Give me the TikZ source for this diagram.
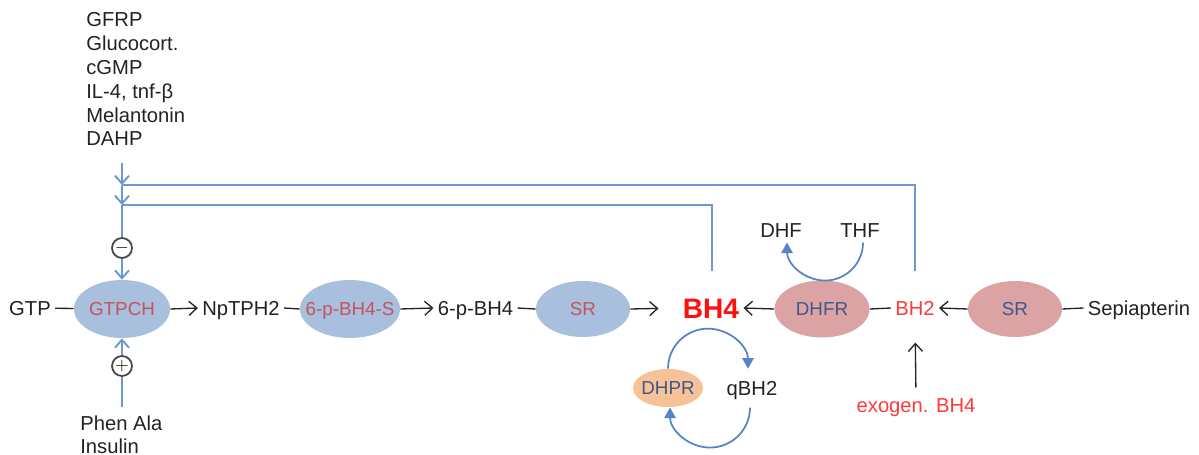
\documentclass[tikz,border=0pt]{standalone}
\usepackage{fontspec}
\setmainfont{Liberation Sans}
\usetikzlibrary{arrows.meta,shapes.geometric}

\definecolor{fbblue}{HTML}{6E98CF}
\definecolor{cycblue}{HTML}{5585C4}
\definecolor{ellblue}{HTML}{A8BFDE}
\definecolor{ellpink}{HTML}{DBA3A3}
\definecolor{ellorange}{HTML}{F8C298}
\definecolor{enzred}{HTML}{C4545C}
\definecolor{enzslate}{HTML}{3F5789}
\definecolor{ink}{HTML}{222222}
\definecolor{hotred}{HTML}{FF1010}
\definecolor{softred}{HTML}{FF3A3A}

% enzyme labels take no room, so the ellipse keeps its set size
\newcommand{\enzlabel}[1]{\makebox[0pt][c]{#1}}

\tikzset{
  lst/.style={font=\fontsize{11.5}{13.8}\selectfont, text=ink, inner sep=0pt},
  lbl/.style={font=\fontsize{11.5}{13.8}\selectfont, text=ink, inner xsep=2.3pt,
              inner ysep=0pt, text height=8.2pt, text depth=0pt},
  enz/.style={ellipse, draw=none, inner sep=0pt, font=\fontsize{10.7}{13}\selectfont,
              text height=7.6pt, text depth=0pt},
  blueenz/.style={enz, fill=ellblue, text=enzred},
  pinkenz/.style={enz, fill=ellpink, text=enzslate},
  link/.style={draw=ink, line width=0.75pt},
  conv/.style={link, -{Straight Barb[length=4.5pt,width=8pt]}},
  fb/.style={draw=fbblue, line width=1.1pt},
  fbarrow/.style={fb, -{Straight Barb[length=4.5pt,width=8pt]}},
  cyc/.style={draw=cycblue, line width=1pt, -{Triangle[length=6pt,width=6.5pt]}},
  reg/.style={circle, draw=gray!55!black, line width=1pt, minimum size=0.4cm,
              inner sep=0pt, font=\fontsize{10}{10}\selectfont},
}

\begin{document}
\begin{tikzpicture}[x=0.02cm,y=-0.02cm]
\useasboundingbox[fill=white] (0,0) rectangle (1199,455);

% regulators of GTPCH
\node[lst, anchor=base west] (gfrp) at (86,27)    {GFRP};
\node[lst, anchor=base west] (gluc) at (86,50.8)  {Glucocort.};
\node[lst, anchor=base west] (cgmp) at (86,74.6)  {cGMP};
\node[lst, anchor=base west] (il4)  at (86,98.4)  {IL-4, tnf-β};
\node[lst, anchor=base west] (mel)  at (86,122.2) {Melantonin};
\node[lst, anchor=base west] (dahp) at (86,146)   {DAHP};
\node[lst, anchor=base west] (phe)  at (80,430)   {Phen Ala};
\node[lst, anchor=base west] (ins)  at (80,453)   {Insulin};

% de novo pathway
\node[lbl] (gtp) at (30,308) {GTP};
\node[blueenz, minimum width=1.92cm, minimum height=1.16cm] (gtpch) at (122,309) {\enzlabel{GTPCH}};
\node[lbl] (np) at (241,308) {NpTPH2};
\node[blueenz, minimum width=2cm, minimum height=1.16cm] (ptps) at (350,309) {\enzlabel{6-p-BH4-S}};
\node[lbl] (p6) at (475.5,308) {6-p-BH4};
\node[blueenz, minimum width=1.88cm, minimum height=1.12cm] (sr1) at (583,309) {\enzlabel{SR}};
\node[lbl, font=\bfseries\fontsize{16}{19}\selectfont, text=hotred, text height=11.5pt] (bh4) at (711,308) {BH4};

% salvage pathway
\node[pinkenz, minimum width=1.9cm, minimum height=1.14cm] (dhfr) at (822,309) {\enzlabel{DHFR}};
\node[lbl, text=softred] (bh2) at (915,308) {BH2};
\node[pinkenz, minimum width=1.88cm, minimum height=1.12cm] (sr2) at (1015,309) {\enzlabel{SR}};
\node[lbl] (sep) at (1139,308) {Sepiapterin};
\node[lbl, text=softred] (exo) at (916,405) {exogen. BH4};

% folate cycle
\node[lbl] (dhf) at (781,230) {DHF};
\node[lbl] (thf) at (860,230) {THF};

% recycling
\node[enz, fill=ellorange, text=enzslate, minimum width=1.4cm, minimum height=0.76cm] (dhpr) at (668,388) {\enzlabel{DHPR}};
\node[lbl] (qbh2) at (752,388) {qBH2};

% regulation signs
\node[reg] (minus) at (122,248) {$-$};
\node[reg] (plus) at (122,366) {$+$};

% main row connectors
\draw[link] (gtp) -- (gtpch);
\draw[conv] (gtpch.east) -- (np.west);
\draw[link] (np.east) -- (ptps.west);
\draw[conv] (ptps.east) -- (p6.west);
\draw[link] (p6.east) -- (sr1.west);
\draw[conv, shorten >=0.4cm] (sr1.east) -- (bh4.west);
\draw[conv] (dhfr.west) -- (bh4.east);
\draw[link] (dhfr.east) -- (bh2.west);
\draw[conv] (sr2.west) -- (bh2.east);
\draw[link] (sep.west) -- (sr2.east);
\draw[conv, shorten <=0.2cm, shorten >=0.54cm] (exo.north) -- (bh2.south);

% feedback to GTPCH
\coordinate (fbtop) at (122,163);
\coordinate (j1) at (122,185);
\coordinate (j2) at (122,205);
\coordinate (fb1) at (915,271);
\coordinate (fb2) at (712,271);
\coordinate (plusfoot) at (122,407);
\draw[fbarrow] (fbtop) -- (j1);
\draw[fbarrow] (j1) -- (j2);
\draw[fb] (j2) -- (minus.north);
\draw[fb] (fb1) |- (j1);
\draw[fb] (fb2) |- (j2);
\draw[fbarrow] (minus.south) -- (gtpch.north);
\draw[fbarrow] (plus.north) -- (gtpch.south);
\draw[fb] (plusfoot) -- (plus.south);

% cycle arcs
\draw[cyc] (dhpr.north) arc[start angle=180, end angle=0, radius=0.8cm];
\draw[cyc] (qbh2.south) ++(-2,12) arc[start angle=0, end angle=-180, radius=0.8cm];
\draw[cyc] (thf.south) ++(3,5) arc[start angle=0, end angle=-180, radius=0.76cm];
\end{tikzpicture}
\end{document}
